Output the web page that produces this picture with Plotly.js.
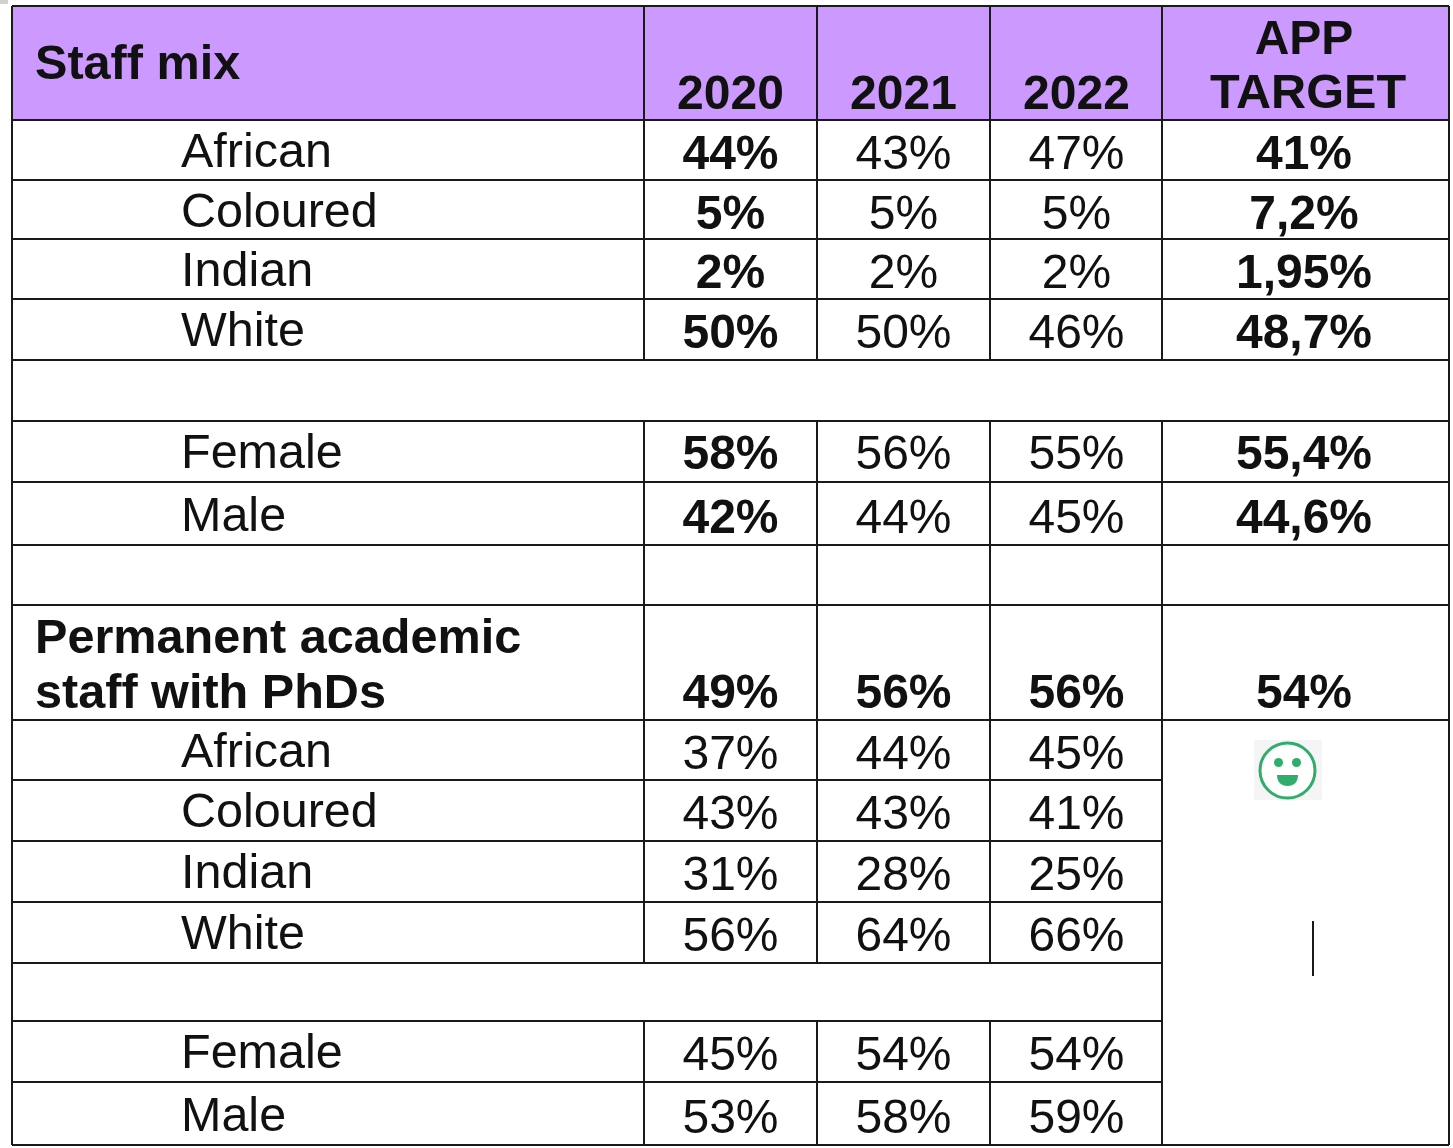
<!DOCTYPE html>
<html>
<head>
<meta charset="utf-8">
<title>Staff mix</title>
<script src="https://cdn.plot.ly/plotly-3.0.1.min.js"></script>
<style>
    html, body { margin: 0; padding: 0; background: #fff; overflow: hidden; }
    #chart { width: 1453px; height: 1148px; filter: blur(0.5px); }
</style>
</head>
<body>
<div id="chart"></div>
<script>
// Table values
const years = ['2020', '2021', '2022'];
const rowLabels = ['African', 'Coloured', 'Indian', 'White', 'Female', 'Male'];

const staff2020 = ['44%', '5%', '2%', '50%', '58%', '42%'];
const staff2021 = ['43%', '5%', '2%', '50%', '56%', '44%'];
const staff2022 = ['47%', '5%', '2%', '46%', '55%', '45%'];
const staffTarget = ['41%', '7,2%', '1,95%', '48,7%', '55,4%', '44,6%'];

const phdTotal = ['49%', '56%', '56%'];
const phdTarget = '54%';
const phd2020 = ['37%', '43%', '31%', '56%', '45%', '53%'];
const phd2021 = ['44%', '43%', '28%', '64%', '54%', '58%'];
const phd2022 = ['45%', '41%', '25%', '66%', '54%', '59%'];

// Page layout, in pixels of the axes
const yearX = [730.5, 903.5, 1076.5];
const targetX = 1304;
const labelX = 181;
const titleX = 35;
const left = 12, right = 1449, targetLeft = 1162;
const yearLines = [644, 817, 990];
const staffLabelY = [150, 210, 269, 329, 451, 514];
const staffValueY = [153, 213, 272, 332, 453, 517];
const phdLabelY = [750, 810, 871, 932, 1051, 1114];
const phdValueY = [753, 813, 874, 935, 1054, 1117];
const textOffset = 5;

const lineColor = '#1a1a1a';
const fontFamily = '"Liberation Sans", Arial, sans-serif';

const normal = { x: [], y: [], text: [], anchor: [], size: [] };
const bold = { x: [], y: [], text: [], anchor: [], size: [] };

const put = (group, x, y, text, anchor = 'middle center', size = 48) => {
    group.x.push(x);
    group.y.push(y + textOffset);
    group.text.push(text);
    group.anchor.push(anchor);
    group.size.push(size);
};

// Header
put(bold, titleX, 62, 'Staff mix', 'middle right', 48.6);
years.forEach((year, i) => put(bold, yearX[i], 92, year));
put(bold, targetX, 37, 'APP');
put(bold, targetX + 4, 91, 'TARGET', 'middle center', 48.6);

// Staff mix rows
rowLabels.forEach((label, i) => {
    put(normal, labelX, staffLabelY[i], label, 'middle right', 48.5);
    put(bold, yearX[0], staffValueY[i] - 1, staff2020[i]);
    put(normal, yearX[1], staffValueY[i] - 1, staff2021[i]);
    put(normal, yearX[2], staffValueY[i] - 1, staff2022[i]);
    put(bold, targetX, staffValueY[i] - 1, staffTarget[i]);
});

// PhD rows
put(bold, titleX, 636, 'Permanent academic', 'middle right', 48.6);
put(bold, titleX, 691, 'staff with PhDs', 'middle right', 48.6);
phdTotal.forEach((value, i) => put(bold, yearX[i], 691, value));
put(bold, targetX, 691, phdTarget);

rowLabels.forEach((label, i) => {
    put(normal, labelX, phdLabelY[i], label, 'middle right', 48.5);
    put(normal, yearX[0], phdValueY[i] - 1, phd2020[i]);
    put(normal, yearX[1], phdValueY[i] - 1, phd2021[i]);
    put(normal, yearX[2], phdValueY[i] - 1, phd2022[i]);
});

const textTrace = (group, weight) => ({
    type: 'scatter',
    mode: 'text',
    x: group.x,
    y: group.y,
    text: group.text,
    textposition: group.anchor,
    textfont: { family: fontFamily, size: group.size, color: '#111', weight: weight },
    hoverinfo: 'skip',
    cliponaxis: false,
    showlegend: false
});

const line = (x0, y0, x1, y1, width = 2, color = lineColor) => ({
    type: 'line', xref: 'x', yref: 'y', x0, y0, x1, y1,
    line: { color, width }
});

const shapes = [
    // Header fill
    { type: 'rect', xref: 'x', yref: 'y', x0: left, x1: right, y0: 6, y1: 120,
      fillcolor: '#cc99ff', line: { width: 0 }, layer: 'below' }
];

// Rows that run the whole width
[6, 120, 180, 239, 299, 360, 421, 482, 545, 605, 720, 1145].forEach(y => shapes.push(line(left, y, right, y)));
// Rows stopping at the merged target cell
[780, 841, 902, 963, 1021, 1082].forEach(y => shapes.push(line(left, y, targetLeft, y)));

// Column lines
yearLines.forEach(x => {
    shapes.push(line(x, 6, x, 360));
    shapes.push(line(x, 421, x, 963));
    shapes.push(line(x, 1021, x, 1145));
});
shapes.push(line(targetLeft, 6, targetLeft, 360));
shapes.push(line(targetLeft, 421, targetLeft, 1145));
shapes.push(line(left, 6, left, 1145));
shapes.push(line(right, 6, right, 1145));

// Text cursor left in the target cell
shapes.push(line(1313, 921, 1313, 976));

// Small corner mark of the screenshot
shapes.push({ type: 'rect', xref: 'x', yref: 'y', x0: 0, x1: 8, y0: 0, y1: 4,
    fillcolor: '#d0d0d0', line: { width: 0 } });

// Smiley face
const green = '#2fae6b';
shapes.push({ type: 'rect', xref: 'x', yref: 'y', x0: 1254, x1: 1322, y0: 740, y1: 800,
    fillcolor: '#f5f5f5', line: { width: 0 } });
shapes.push({ type: 'circle', xref: 'x', yref: 'y', x0: 1260, x1: 1315, y0: 743, y1: 798,
    fillcolor: '#fff', line: { color: green, width: 3 } });
shapes.push({ type: 'circle', xref: 'x', yref: 'y', x0: 1274, x1: 1283, y0: 758, y1: 767,
    fillcolor: green, line: { width: 0 } });
shapes.push({ type: 'circle', xref: 'x', yref: 'y', x0: 1292, x1: 1301, y0: 758, y1: 767,
    fillcolor: green, line: { width: 0 } });
shapes.push({ type: 'path', xref: 'x', yref: 'y',
    path: 'M 1277 775 L 1298 775 C 1298 782 1294 786 1287.5 786 C 1281 786 1277 782 1277 775 Z',
    fillcolor: green, line: { width: 0 } });

const layout = {
    width: 1453,
    height: 1148,
    margin: { l: 0, r: 0, t: 0, b: 0 },
    paper_bgcolor: '#fff',
    plot_bgcolor: '#fff',
    xaxis: { range: [0, 1453], visible: false, fixedrange: true },
    yaxis: { range: [1148, 0], visible: false, fixedrange: true },
    shapes: shapes,
    showlegend: false
};

Plotly.newPlot('chart', [textTrace(normal, 'normal'), textTrace(bold, 'bold')], layout, {
    displayModeBar: false,
    staticPlot: true
});
</script>
</body>
</html>
